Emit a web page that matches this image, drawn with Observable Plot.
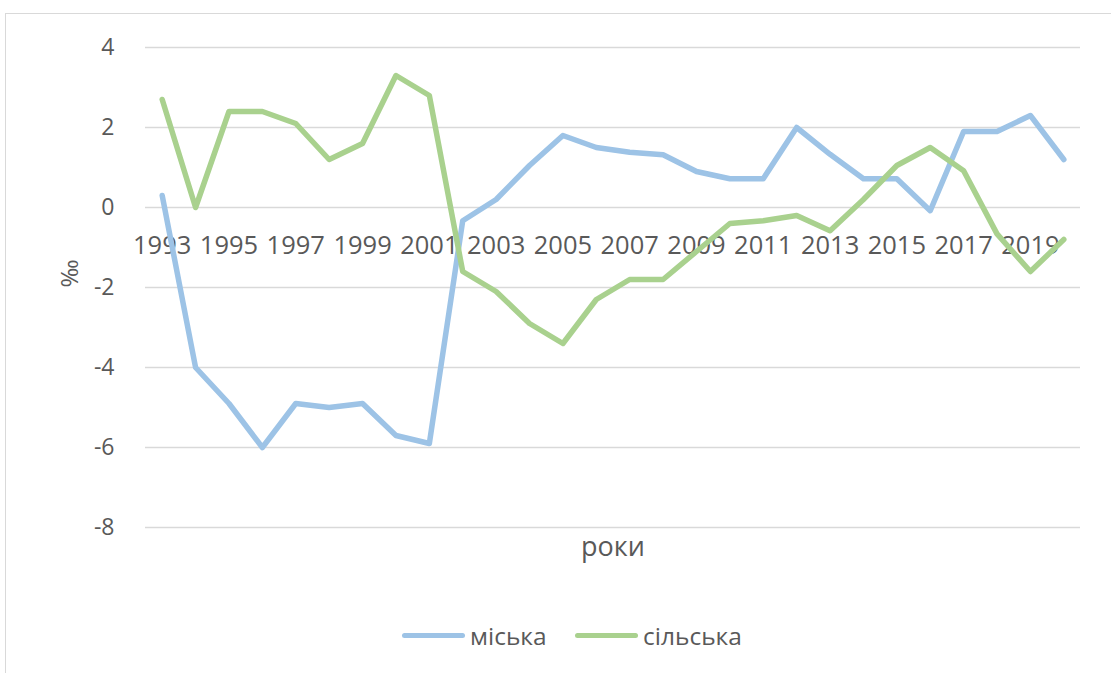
<!DOCTYPE html>
<html>
<head>
<meta charset="utf-8">
<script src="https://cdn.jsdelivr.net/npm/d3@7"></script>
<script src="https://cdn.jsdelivr.net/npm/@observablehq/plot@0.6"></script>
<style>
  html, body { margin: 0; padding: 0; background: #fff; }
  body { width: 1111px; height: 673px; position: relative; overflow: hidden; font-family: "Open Sans", sans-serif; }
  #frame { position: absolute; left: 5px; top: 13px; width: 1200px; height: 700px; border-top: 1.5px solid #d9d9d9; border-left: 1.5px solid #d9d9d9; }
  #chart { position: absolute; left: 0; top: 0; }
  #legend { position: absolute; left: 0; top: 618px; width: 1111px; height: 34px; }
  .item { position: absolute; top: 0; display: flex; align-items: center; height: 34px; color: #595959; font-size: 24.5px; }
  .sw { width: 63px; height: 5px; border-radius: 3px; margin-right: 5px; }
</style>
</head>
<body>
<div id="frame"></div>
<div id="chart"></div>
<div id="legend"></div>
<script>
const years = [1993,1994,1995,1996,1997,1998,1999,2000,2001,2002,2003,2004,2005,2006,2007,2008,2009,2010,2011,2012,2013,2014,2015,2016,2017,2018,2019,2020];
const urban = [0.3,-4.0,-4.9,-6.0,-4.9,-5.0,-4.9,-5.7,-5.9,-0.33,0.2,1.05,1.8,1.5,1.38,1.32,0.9,0.72,0.72,2.0,1.33,0.72,0.72,-0.08,1.9,1.9,2.3,1.2];
const rural = [2.7,0.0,2.4,2.4,2.1,1.2,1.6,3.3,2.8,-1.6,-2.1,-2.9,-3.4,-2.3,-1.8,-1.8,-1.1,-0.4,-0.33,-0.2,-0.58,0.2,1.05,1.5,0.92,-0.66,-1.6,-0.8];
const yTicks = [4,2,0,-2,-4,-6,-8];
const xLabels = years.filter((y, i) => i % 2 === 0);
const seriesNames = ["міська", "сільська"];
const colors = ["#9DC3E6", "#A9D18E"];
const yLabel = "‰";
const xTitle = "роки";

const urbanData = years.map((y, i) => ({year: y, v: urban[i]}));
const ruralData = years.map((y, i) => ({year: y, v: rural[i]}));

const plot = Plot.plot({
  width: 1111,
  height: 600,
  marginLeft: 145,
  marginRight: 31,
  marginTop: 47,
  marginBottom: 73,
  style: {fontFamily: "Open Sans, sans-serif", background: "transparent", overflow: "visible"},
  x: {type: "point", domain: years, padding: 0.5, round: false, axis: null},
  y: {domain: [-8, 4], axis: null},
  marks: [
    Plot.ruleY(yTicks, {stroke: "#d9d9d9", strokeWidth: 1.5}),
    Plot.axisY({ticks: yTicks, tickSize: 0, tickPadding: 31, fontSize: 23, fill: "#595959", label: null, tickFormat: d => d < 0 ? "-" + Math.abs(d) : String(d)}),
    Plot.text(xLabels, {x: d => d, y: () => 0, dy: 38, text: d => String(d), fontSize: 25.5, fill: "#595959"}),
    Plot.line(urbanData, {x: "year", y: "v", stroke: colors[0], strokeWidth: 5.5, strokeLinejoin: "round", strokeLinecap: "round"}),
    Plot.line(ruralData, {x: "year", y: "v", stroke: colors[1], strokeWidth: 5.5, strokeLinejoin: "round", strokeLinecap: "round"}),
    Plot.text([xTitle], {frameAnchor: "bottom", dy: 28, text: d => d, fontSize: 27, fill: "#595959"}),
    Plot.text([yLabel], {frameAnchor: "left", dx: -75, rotate: -90, text: d => d, fontSize: 24, fill: "#595959"})
  ]
});
document.getElementById("chart").appendChild(plot);

const legend = document.getElementById("legend");
const lefts = [402, 575];
seriesNames.forEach((name, i) => {
  const it = document.createElement("div");
  it.className = "item";
  it.style.left = lefts[i] + "px";
  const sw = document.createElement("div");
  sw.className = "sw";
  sw.style.background = colors[i];
  const tx = document.createElement("span");
  tx.textContent = name;
  it.appendChild(sw);
  it.appendChild(tx);
  legend.appendChild(it);
});
</script>
</body>
</html>
